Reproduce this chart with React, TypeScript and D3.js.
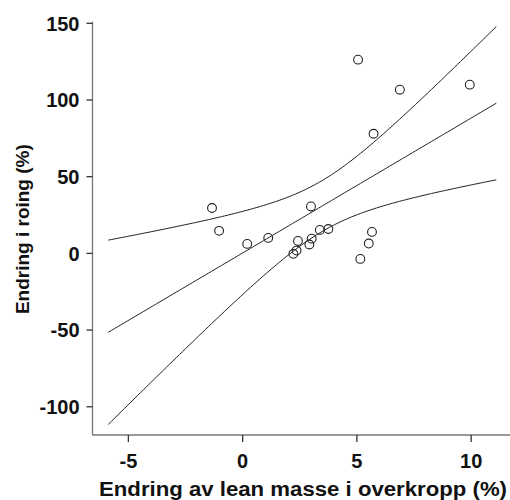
import React from "react";
import * as d3 from "d3";

// Change in upper-body lean mass (%) vs change in rowing performance (%)
const leanChange = [
  -1.34, -1.03, 0.2, 1.12, 2.99, 2.42, 2.36, 2.22, 2.92, 3.02,
  3.38, 3.75, 5.66, 5.52, 5.15, 5.05, 6.88, 9.94, 5.73,
];
const roingChange = [
  29.6, 14.7, 6.2, 10.1, 30.6, 8.1, 1.8, -0.3, 5.8, 9.6,
  15.3, 15.9, 14.0, 6.4, -3.6, 126.3, 106.7, 110.0, 78.0,
];

const xTicks = [-5, 0, 5, 10];
const yTicks = [-100, -50, 0, 50, 100, 150];

const xTitle = "Endring av lean masse i overkropp (%)";
const yTitle = "Endring i roing (%)";

// extent over which the fit line and its band are drawn
const fitFrom = -5.88;
const fitTo = 11.1;
// two-sided 95% t quantile, df = n - 2 = 17
const T_CRIT = 2.11;

const W = 510;
const H = 500;
const left = 92.5;
const right = 510;
const top = 23.3;
const bottom = 435;

const FONT = "'Liberation Sans', Arial, sans-serif";

function fit(xs: number[], ys: number[]) {
  const n = xs.length;
  const mx = d3.mean(xs)!;
  const my = d3.mean(ys)!;
  let sxx = 0;
  let sxy = 0;
  xs.forEach((x, i) => {
    sxx += (x - mx) * (x - mx);
    sxy += (x - mx) * (ys[i] - my);
  });
  const b = sxy / sxx;
  const a = my - b * mx;
  let sse = 0;
  xs.forEach((x, i) => {
    const r = ys[i] - (a + b * x);
    sse += r * r;
  });
  const s = Math.sqrt(sse / (n - 2));
  const half = (x: number) =>
    T_CRIT * s * Math.sqrt(1 / n + ((x - mx) * (x - mx)) / sxx);
  return { a, b, half };
}

export default function App() {
  const x = d3.scaleLinear().domain([-6.57, 11.7]).range([left, right]);
  const y = d3.scaleLinear().domain([-118.4, 150]).range([bottom, top]);

  const { a, b, half } = fit(leanChange, roingChange);
  const grid = d3.range(0, 121).map((i) => fitFrom + ((fitTo - fitFrom) * i) / 120);
  const line = d3
    .line<number[]>()
    .x((d) => x(d[0]))
    .y((d) => y(d[1]));
  const mid = line(grid.map((g) => [g, a + b * g]))!;
  const upper = line(grid.map((g) => [g, a + b * g + half(g)]))!;
  const lower = line(grid.map((g) => [g, a + b * g - half(g)]))!;

  return (
    <svg
      width={W}
      height={H}
      style={{ position: "absolute", left: 0, top: 0, background: "#fff" }}
      fontFamily={FONT}
    >
      <rect width={W} height={H} fill="#fff" />
      {/* axes */}
      <line x1={left} x2={left} y1={top - 1.5} y2={bottom} stroke="#777" strokeWidth={1.3} />
      <line x1={left} x2={right} y1={bottom} y2={bottom} stroke="#777" strokeWidth={1.3} />
      {yTicks.map((t) => (
        <g key={"y" + t}>
          <line x1={left - 6} x2={left} y1={y(t)} y2={y(t)} stroke="#333" strokeWidth={1.3} />
          <text
            x={left - 13}
            y={y(t)}
            dy="0.36em"
            textAnchor="end"
            fontSize={20}
            fontWeight="bold"
            fill="#111"
          >
            {t}
          </text>
        </g>
      ))}
      {xTicks.map((t) => (
        <g key={"x" + t}>
          <line x1={x(t)} x2={x(t)} y1={bottom} y2={bottom + 7} stroke="#333" strokeWidth={1.3} />
          <text
            x={x(t)}
            y={468}
            textAnchor="middle"
            fontSize={20}
            fontWeight="bold"
            fill="#111"
          >
            {t}
          </text>
        </g>
      ))}
      <text
        x={303}
        y={496}
        textAnchor="middle"
        fontSize={20}
        fontWeight="bold"
        fill="#111"
        textLength={408}
        lengthAdjust="spacingAndGlyphs"
      >
        {xTitle}
      </text>
      <text
        transform={`translate(${29},${(top + bottom) / 2}) rotate(-90)`}
        textAnchor="middle"
        fontSize={19}
        fontWeight="bold"
        fill="#111"
      >
        {yTitle}
      </text>
      {/* fit line with 95% confidence band of the mean */}
      <path d={upper} fill="none" stroke="#222" strokeWidth={1} />
      <path d={mid} fill="none" stroke="#222" strokeWidth={1} />
      <path d={lower} fill="none" stroke="#222" strokeWidth={1} />
      {/* observations */}
      {leanChange.map((v, i) => (
        <circle
          key={i}
          cx={x(v)}
          cy={y(roingChange[i])}
          r={4.4}
          fill="none"
          stroke="#222"
          strokeWidth={1.1}
        />
      ))}
    </svg>
  );
}
